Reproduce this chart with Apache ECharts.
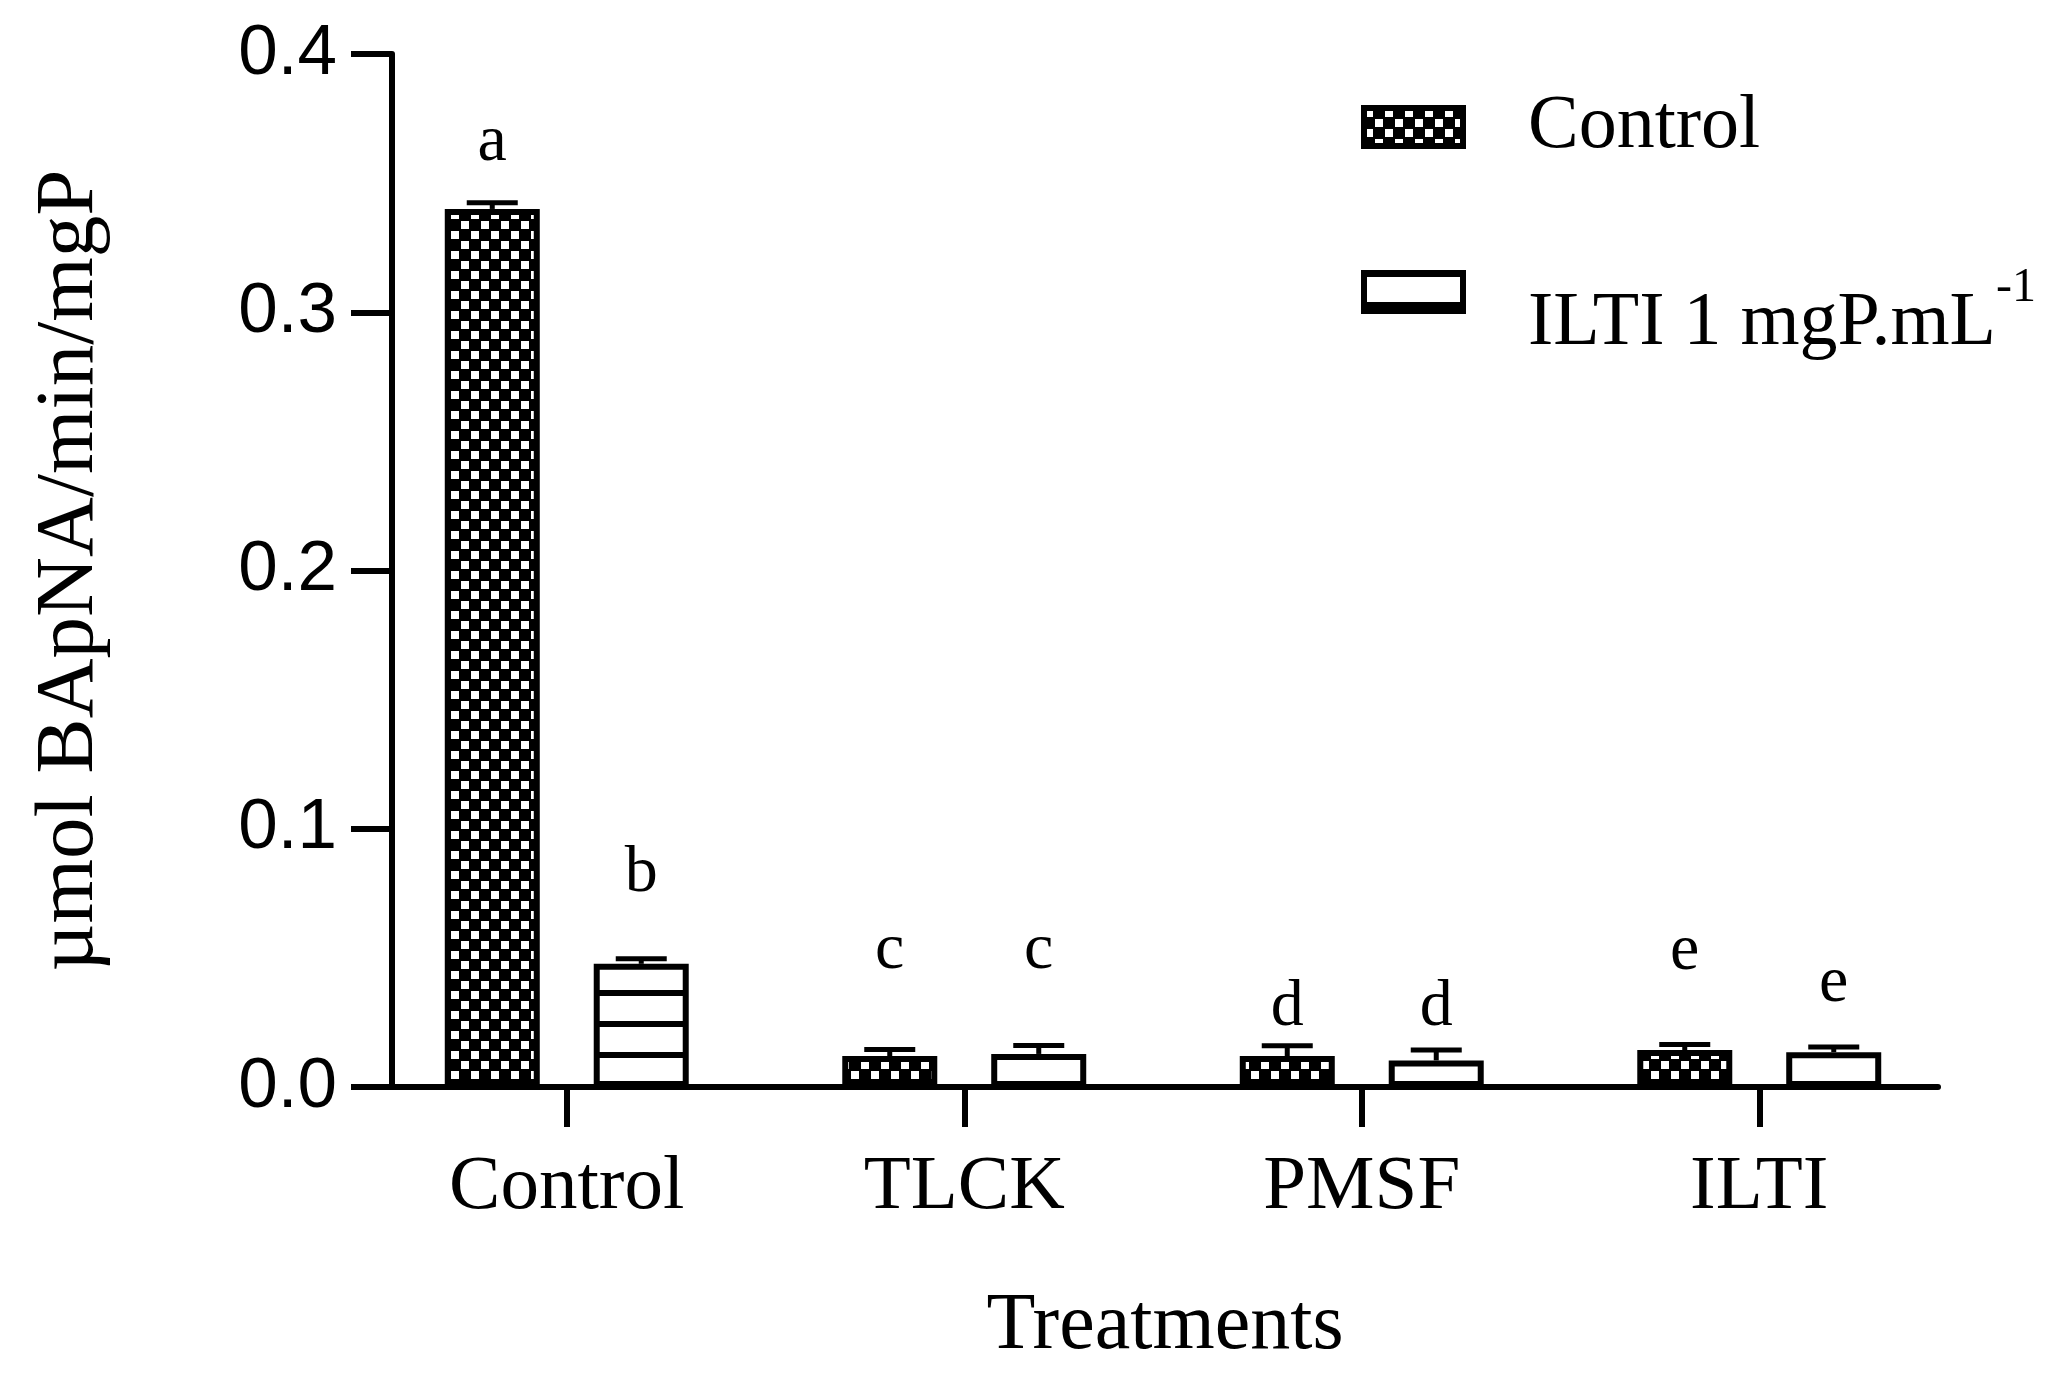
<!DOCTYPE html>
<html><head><meta charset="utf-8">
<script src="https://cdn.jsdelivr.net/npm/echarts@6/dist/echarts.min.js"></script>
<style>html,body{margin:0;padding:0;background:#fff}#c{width:2061px;height:1380px}</style>
</head><body><div id="c"></div>
<script>
// ---- data ----
const categories = ['Control', 'TLCK', 'PMSF', 'ILTI'];
const controlMeans = [0.340, 0.0120, 0.0120, 0.0143];
const controlErrors = [0.0024, 0.0025, 0.0040, 0.0022];
const iltiMeans = [0.0477, 0.0128, 0.0103, 0.0135];
const iltiErrors = [0.0020, 0.0033, 0.0040, 0.0020];
const controlLetters = ['a', 'c', 'd', 'e'];
const controlLetterPos = [0.358, 0.0453, 0.0232, 0.0446];   // baseline of letter
const iltiLetters = ['b', 'c', 'd', 'e'];
const iltiLetterPos = [0.0748, 0.0453, 0.0232, 0.0325];
const seriesNames = ['Control', 'ILTI 1 mgP.mL-1'];
const yTitle = 'µmol BApNA/min/mgP';
const xTitle = 'Treatments';

// ---- styling constants ----
const SERIF = 'Liberation Serif';
const BAR_W = 95, BAR_GAP_PX = 54;
const OFFSET = (BAR_W + BAR_GAP_PX) / 2;
const LETTER_SIZE = 66;

function checker() {
  const c = document.createElement('canvas'); c.width = 20; c.height = 20;
  const g = c.getContext('2d');
  g.fillStyle = '#000'; g.fillRect(0, 0, 20, 20);
  g.fillStyle = '#fff'; g.fillRect(1, 1, 8, 8); g.fillRect(11, 11, 8, 8);
  return c;
}
function stripes() {
  const c = document.createElement('canvas'); c.width = 8; c.height = 31;
  const g = c.getContext('2d');
  g.fillStyle = '#fff'; g.fillRect(0, 0, 8, 31);
  g.fillStyle = '#000'; g.fillRect(0, 0, 8, 4); g.fillRect(0, 29, 8, 2);
  return c;
}
const checkerPat = { image: checker(), repeat: 'repeat' };
const stripePat = { image: stripes(), repeat: 'repeat' };

function makeRender(sign, letters) {
  return function (params, api) {
    const idx = api.value(0), mean = api.value(1), err = api.value(2), lp = api.value(3);
    const base = api.coord([idx, mean]);
    const x = base[0] + sign * OFFSET;
    const top = api.coord([idx, mean + err])[1];
    const ly = api.coord([idx, lp])[1];
    return {
      type: 'group',
      children: [
        { type: 'line', shape: { x1: x, y1: base[1], x2: x, y2: top }, style: { stroke: '#000', lineWidth: 5 } },
        { type: 'line', shape: { x1: x - 25.5, y1: top, x2: x + 25.5, y2: top }, style: { stroke: '#000', lineWidth: 5 } },
        { type: 'text', style: { text: letters[idx], x: x, y: ly - LETTER_SIZE * 0.3, align: 'center', verticalAlign: 'middle',
            font: LETTER_SIZE + 'px "' + SERIF + '"', fill: '#000' } }
      ]
    };
  };
}

const chart = echarts.init(document.getElementById('c'), null, { renderer: 'canvas' });
chart.setOption({
  animation: false,
  backgroundColor: '#fff',
  grid: [
    { left: 392, right: 123, top: 54, bottom: 293 },
    { left: 368, right: 103, top: 54, bottom: 293 }
  ],
  legend: {
    orient: 'vertical', left: 1361, top: 87, padding: 0, itemWidth: 99, itemHeight: 38, itemGap: 55,
    icon: 'rect', selectedMode: false, data: seriesNames,
    itemStyle: { borderWidth: 6, borderColor: '#000' },
    formatter: function (n) { return n === seriesNames[1] ? '{m|ILTI 1 mgP.mL}{s|-1}' : '{n|' + n + '}'; },
    textStyle: {
      fontFamily: SERIF, fontSize: 76, color: '#000', lineHeight: 80, padding: [0, 0, 0, 60],
      rich: {
        n: { fontFamily: SERIF, fontSize: 76, color: '#000', lineHeight: 80 },
        m: { fontFamily: SERIF, fontSize: 76, color: '#000', lineHeight: 80, padding: [64, 0, 0, 0] },
        s: { fontFamily: SERIF, fontSize: 48, color: '#000', lineHeight: 34, padding: [0, 0, 8, 0] }
      }
    }
  },
  xAxis: [
    { gridIndex: 0, type: 'value', min: 0, max: 1,
      axisLine: { show: true, lineStyle: { color: '#000', width: 6 } },
      axisTick: { show: false }, axisLabel: { show: false }, splitLine: { show: false },
      name: xTitle, nameLocation: 'middle', nameGap: 200,
      nameTextStyle: { fontFamily: SERIF, fontSize: 80, color: '#000' } },
    { gridIndex: 1, type: 'category', data: categories,
      axisLine: { show: false },
      axisTick: { show: true, alignWithLabel: true, length: 40, lineStyle: { color: '#000', width: 6 } },
      axisLabel: { margin: 62, fontFamily: SERIF, fontSize: 77, color: '#000' } }
  ],
  yAxis: [
    { gridIndex: 0, type: 'value', min: 0, max: 0.4, interval: 0.1,
      axisLine: { show: true, lineStyle: { color: '#000', width: 6 } },
      axisTick: { show: true, length: 41, lineStyle: { color: '#000', width: 6 } },
      axisLabel: { margin: 55, fontFamily: 'Liberation Sans', fontSize: 71, color: '#000',
        formatter: function (v) { return v.toFixed(1); } },
      splitLine: { show: false },
      name: yTitle, nameLocation: 'middle', nameGap: 280,
      nameTextStyle: { fontFamily: SERIF, fontSize: 83, color: '#000' } },
    { gridIndex: 1, type: 'value', min: 0, max: 0.4, interval: 0.1, show: false }
  ],
  series: [
    { name: seriesNames[0], type: 'bar', xAxisIndex: 1, yAxisIndex: 1, data: controlMeans,
      barWidth: BAR_W, barGap: (BAR_GAP_PX / BAR_W * 100).toFixed(1) + '%',
      itemStyle: { color: checkerPat, borderColor: '#000', borderWidth: 6 }, emphasis: { disabled: true } },
    { name: seriesNames[1], type: 'bar', xAxisIndex: 1, yAxisIndex: 1, data: iltiMeans,
      barWidth: BAR_W,
      itemStyle: { color: stripePat, borderColor: '#000', borderWidth: 6 }, emphasis: { disabled: true } },
    { type: 'custom', xAxisIndex: 1, yAxisIndex: 1, z: 5, clip: false,
      renderItem: makeRender(-1, controlLetters),
      encode: { x: 0, y: 1 },
      data: categories.map(function (c, i) { return [i, controlMeans[i], controlErrors[i], controlLetterPos[i]]; }) },
    { type: 'custom', xAxisIndex: 1, yAxisIndex: 1, z: 5, clip: false,
      renderItem: makeRender(1, iltiLetters),
      encode: { x: 0, y: 1 },
      data: categories.map(function (c, i) { return [i, iltiMeans[i], iltiErrors[i], iltiLetterPos[i]]; }) }
  ]
});
</script>
</body></html>
